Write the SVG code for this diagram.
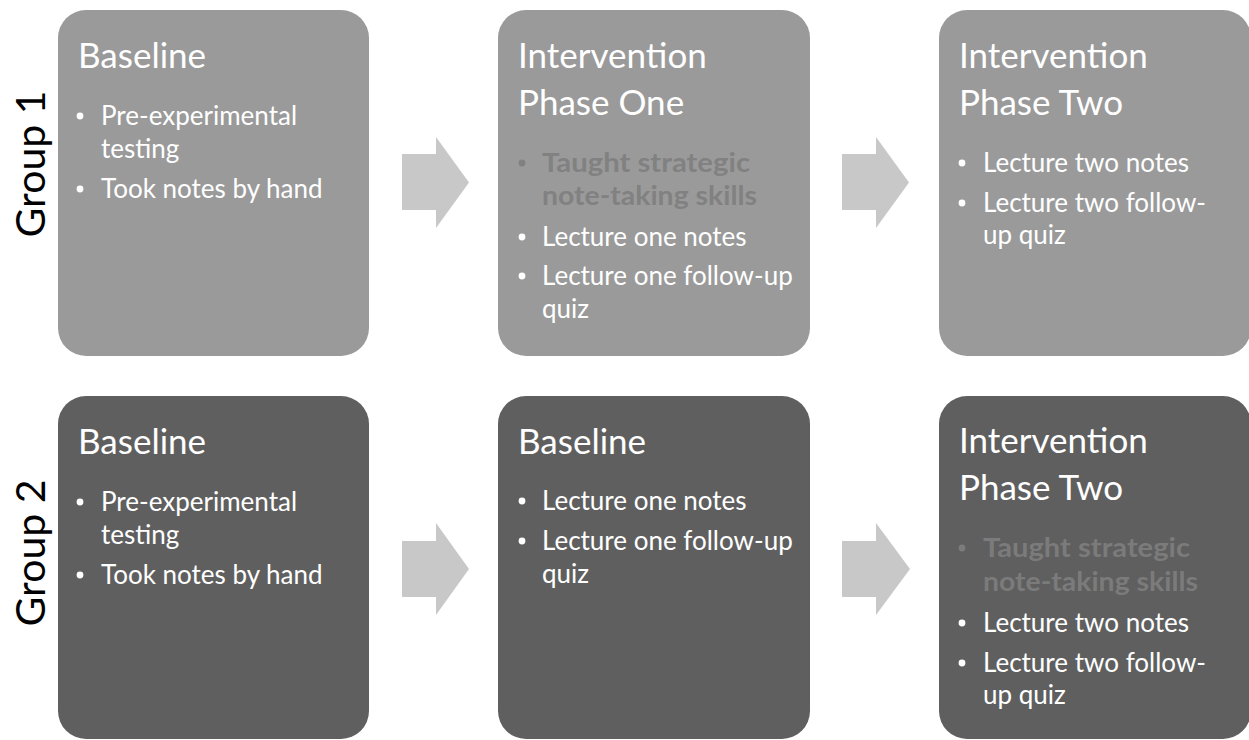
<svg xmlns="http://www.w3.org/2000/svg" width="1249" height="740" viewBox="0 0 1249 740">
<style>
.b1{fill:#9a9a9a}
.b2{fill:#5f5f5f}
.arr{fill:#c8c8c8}
.t{font-family:Lato,"Open Sans","Liberation Sans",sans-serif;fill:#ffffff}
.ti{font-size:35px}
.bt{font-size:26px}
.fd1{font-family:Lato,"Open Sans","Liberation Sans",sans-serif;font-size:26px;font-weight:bold;fill:#818181}
.fd2{font-family:Lato,"Open Sans","Liberation Sans",sans-serif;font-size:26px;font-weight:bold;fill:#7b7b7b}
.grp{font-family:Lato,"Open Sans","Liberation Sans",sans-serif;font-size:41px;fill:#000000}
.dot{fill:#ffffff}
.dotf1{fill:#818181}
.dotf2{fill:#7b7b7b}
</style>
<rect width="1249" height="740" fill="#ffffff"/>
<g id="label-group1"><text class="grp" transform="translate(45,164) rotate(-90)" text-anchor="middle">Group 1</text></g>
<g id="label-group2"><text class="grp" transform="translate(45,553) rotate(-90)" text-anchor="middle">Group 2</text></g>
<g id="g1-baseline">
<rect class="b1" x="58" y="10" width="311" height="346" rx="28"/>
<text class="t ti" x="78" y="68">Baseline</text>
<circle class="dot" cx="80" cy="116" r="3.4"/>
<text class="t bt" x="101" y="125">Pre-experimental</text>
<text class="t bt" x="101" y="158">testing</text>
<circle class="dot" cx="80" cy="189" r="3.4"/>
<text class="t bt" x="101" y="198">Took notes by hand</text>
</g>
<g id="g1-phase1">
<rect class="b1" x="498" y="10" width="312" height="346" rx="28"/>
<text class="t ti" x="518" y="68">Intervention</text>
<text class="t ti" x="518" y="115">Phase One</text>
<circle class="dotf1" cx="522" cy="163" r="3.4"/>
<text class="fd1" x="542" y="172" textLength="208" lengthAdjust="spacingAndGlyphs">Taught strategic</text>
<text class="fd1" x="542" y="205" textLength="215" lengthAdjust="spacingAndGlyphs">note-taking skills</text>
<circle class="dot" cx="522" cy="237" r="3.4"/>
<text class="t bt" x="542" y="246">Lecture one notes</text>
<circle class="dot" cx="522" cy="276" r="3.4"/>
<text class="t bt" x="542" y="285">Lecture one follow-up</text>
<text class="t bt" x="542" y="318">quiz</text>
</g>
<g id="g1-phase2">
<rect class="b1" x="939" y="10" width="312" height="346" rx="28"/>
<text class="t ti" x="959" y="68">Intervention</text>
<text class="t ti" x="959" y="115">Phase Two</text>
<circle class="dot" cx="962" cy="163" r="3.4"/>
<text class="t bt" x="983" y="172">Lecture two notes</text>
<circle class="dot" cx="962" cy="203" r="3.4"/>
<text class="t bt" x="983" y="212">Lecture two follow-</text>
<text class="t bt" x="983" y="244">up quiz</text>
</g>
<g id="g2-baseline">
<rect class="b2" x="58" y="396" width="311" height="343" rx="28"/>
<text class="t ti" x="78" y="454">Baseline</text>
<circle class="dot" cx="80" cy="502" r="3.4"/>
<text class="t bt" x="101" y="511">Pre-experimental</text>
<text class="t bt" x="101" y="544">testing</text>
<circle class="dot" cx="80" cy="575" r="3.4"/>
<text class="t bt" x="101" y="584">Took notes by hand</text>
</g>
<g id="g2-baseline2">
<rect class="b2" x="498" y="396" width="312" height="343" rx="28"/>
<text class="t ti" x="518" y="454">Baseline</text>
<circle class="dot" cx="522" cy="501" r="3.4"/>
<text class="t bt" x="542" y="510">Lecture one notes</text>
<circle class="dot" cx="522" cy="541" r="3.4"/>
<text class="t bt" x="542" y="550">Lecture one follow-up</text>
<text class="t bt" x="542" y="583">quiz</text>
</g>
<g id="g2-phase2">
<rect class="b2" x="939" y="396" width="312" height="343" rx="28"/>
<text class="t ti" x="959" y="453">Intervention</text>
<text class="t ti" x="959" y="500">Phase Two</text>
<circle class="dotf2" cx="962" cy="548" r="3.4"/>
<text class="fd2" x="983" y="557" textLength="207" lengthAdjust="spacingAndGlyphs">Taught strategic</text>
<text class="fd2" x="983" y="591" textLength="215" lengthAdjust="spacingAndGlyphs">note-taking skills</text>
<circle class="dot" cx="962" cy="623" r="3.4"/>
<text class="t bt" x="983" y="632">Lecture two notes</text>
<circle class="dot" cx="962" cy="663" r="3.4"/>
<text class="t bt" x="983" y="672">Lecture two follow-</text>
<text class="t bt" x="983" y="704">up quiz</text>
</g>
<g id="connectors">
<polygon class="arr" points="402,154 436,154 436,137 469,182.5 436,228 436,210 402,210"/>
<polygon class="arr" points="842,154 876,154 876,137 909,182.5 876,228 876,210 842,210"/>
<polygon class="arr" points="402,541 436,541 436,523 469,569 436,615 436,597 402,597"/>
<polygon class="arr" points="842,541 876,541 876,523 910,569 876,615 876,597 842,597"/>
</g>
</svg>
